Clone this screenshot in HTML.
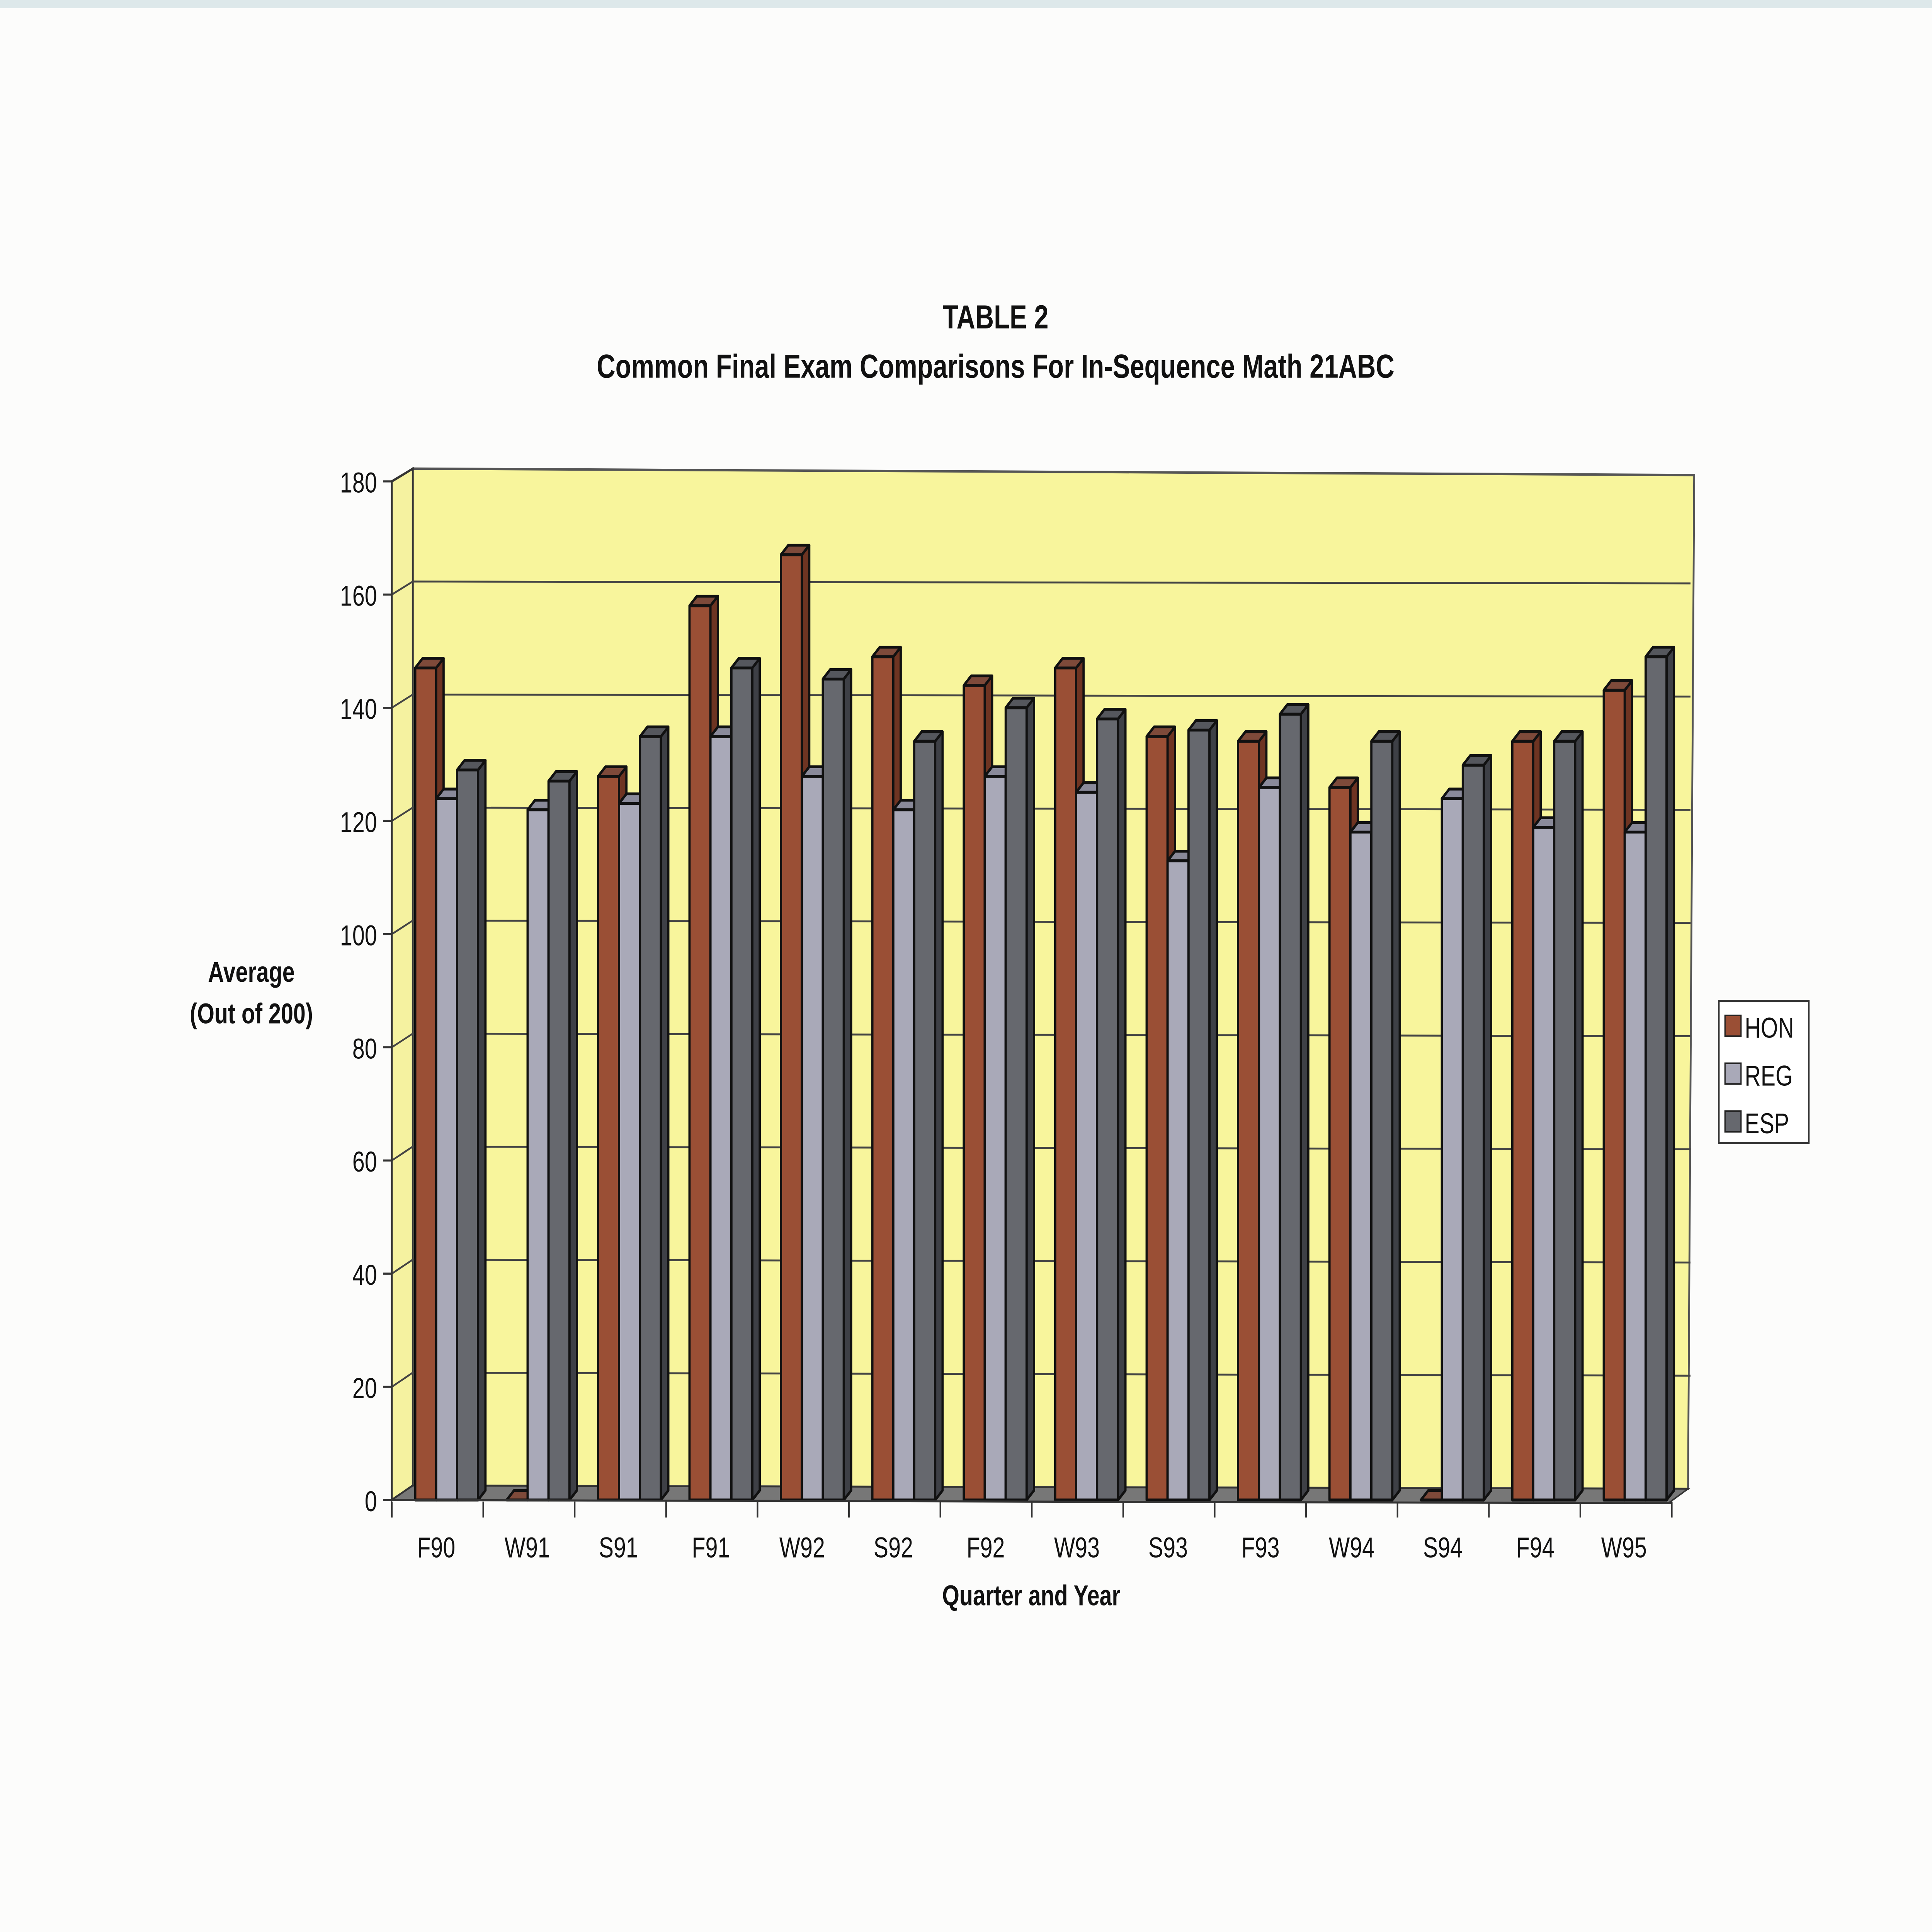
<!DOCTYPE html>
<html><head><meta charset="utf-8"><style>
html,body{margin:0;padding:0;background:#fcfcfb;width:100%;height:100%;overflow:hidden;}
svg{display:block;width:100vw;height:100vh;}
text{font-family:"Liberation Sans",Arial,sans-serif;fill:#111;}
.h1{fill:#9a4f35}.h2{fill:#6e3422}.h3{fill:#7e4a3a}
.r1{fill:#a9a9b8}.r2{fill:#77778a}.r3{fill:#8a8a9a}
.e1{fill:#66686e}.e2{fill:#3e4046}.e3{fill:#55575d}
#bars path{stroke:#111;stroke-width:1.8;stroke-linejoin:round}
</style></head><body>
<svg viewBox="0 0 1568 1212" preserveAspectRatio="none" xmlns="http://www.w3.org/2000/svg">
<rect x="0" y="0" width="1568" height="1212" fill="#fcfcfb"/>
<rect x="0" y="0" width="1568" height="5" fill="#dde8ea"/>
<text x="808" y="206" font-size="21" font-weight="bold" text-anchor="middle">TABLE 2</text>
<text x="808" y="237" font-size="21" font-weight="bold" text-anchor="middle">Common Final Exam Comparisons For In-Sequence Math 21ABC</text>
<polygon points="335,294 1375,298 1370,934 335,932" fill="#f8f59c" stroke="#555" stroke-width="1.5"/>
<polygon points="318,302 335,294 335,932 318,941" fill="#f5f2a0" stroke="#333" stroke-width="1.5"/>
<g stroke="#444" stroke-width="1.2" fill="none">
<polyline points="318,870 335,861.1 1372,863"/>
<polyline points="318,799 335,790.2 1372,792"/>
<polyline points="318,728 335,719.3 1372,721"/>
<polyline points="318,657 335,648.4 1372,650"/>
<polyline points="318,586 335,577.5 1372,579"/>
<polyline points="318,515 335,506.6 1372,508"/>
<polyline points="318,444 335,435.7 1372,437"/>
<polyline points="318,373 335,364.8 1372,366"/>
</g>
<g stroke="#333" stroke-width="1.3">
<line x1="311" y1="302" x2="318" y2="302"/><line x1="311" y1="373" x2="318" y2="373"/>
<line x1="311" y1="444" x2="318" y2="444"/><line x1="311" y1="515" x2="318" y2="515"/>
<line x1="311" y1="586" x2="318" y2="586"/><line x1="311" y1="657" x2="318" y2="657"/>
<line x1="311" y1="728" x2="318" y2="728"/><line x1="311" y1="799" x2="318" y2="799"/>
<line x1="311" y1="870" x2="318" y2="870"/><line x1="311" y1="941" x2="318" y2="941"/>
<line x1="318" y1="942" x2="318" y2="952"/><line x1="392.2" y1="942" x2="392.2" y2="952"/>
<line x1="466.4" y1="942" x2="466.4" y2="952"/><line x1="540.6" y1="942" x2="540.6" y2="952"/>
<line x1="614.8" y1="942" x2="614.8" y2="952"/><line x1="689" y1="942" x2="689" y2="952"/>
<line x1="763.2" y1="942" x2="763.2" y2="952"/><line x1="837.4" y1="942" x2="837.4" y2="952"/>
<line x1="911.6" y1="942" x2="911.6" y2="952"/><line x1="985.8" y1="942" x2="985.8" y2="952"/>
<line x1="1060" y1="942" x2="1060" y2="952"/><line x1="1134.2" y1="942" x2="1134.2" y2="952"/>
<line x1="1208.4" y1="942" x2="1208.4" y2="952"/><line x1="1282.6" y1="942" x2="1282.6" y2="952"/>
<line x1="1356.8" y1="942" x2="1356.8" y2="952"/>
</g>
<polygon points="318,941 1354,943 1370,934 335,932" fill="#777" stroke="#333" stroke-width="1"/>
<g id="bars">
<g transform="translate(337,0)">
<path class="h1" d="M0 941V419h17V941Z"/><path class="h2" d="M17 419l6 -6V935l-6 6Z"/><path class="h3" d="M0 419l6 -6h17l-6 6Z"/>
<path class="r1" d="M17 941V501h17V941Z"/><path class="r2" d="M34 501l6 -6V935l-6 6Z"/><path class="r3" d="M17 501l6 -6h17l-6 6Z"/>
<path class="e1" d="M34 941V483h17V941Z"/><path class="e2" d="M51 483l6 -6V935l-6 6Z"/><path class="e3" d="M34 483l6 -6h17l-6 6Z"/>
</g>
<g transform="translate(411.2,0)">
<path class="h3" d="M0 941l6 -6h17l-6 6Z"/>
<path class="r1" d="M17 941V508h17V941Z"/><path class="r2" d="M34 508l6 -6V935l-6 6Z"/><path class="r3" d="M17 508l6 -6h17l-6 6Z"/>
<path class="e1" d="M34 941V490h17V941Z"/><path class="e2" d="M51 490l6 -6V935l-6 6Z"/><path class="e3" d="M34 490l6 -6h17l-6 6Z"/>
</g>
<g transform="translate(485.4,0)">
<path class="h1" d="M0 941V487h17V941Z"/><path class="h2" d="M17 487l6 -6V935l-6 6Z"/><path class="h3" d="M0 487l6 -6h17l-6 6Z"/>
<path class="r1" d="M17 941V504h17V941Z"/><path class="r2" d="M34 504l6 -6V935l-6 6Z"/><path class="r3" d="M17 504l6 -6h17l-6 6Z"/>
<path class="e1" d="M34 941V462h17V941Z"/><path class="e2" d="M51 462l6 -6V935l-6 6Z"/><path class="e3" d="M34 462l6 -6h17l-6 6Z"/>
</g>
<g transform="translate(559.6,0)">
<path class="h1" d="M0 941V380h17V941Z"/><path class="h2" d="M17 380l6 -6V935l-6 6Z"/><path class="h3" d="M0 380l6 -6h17l-6 6Z"/>
<path class="r1" d="M17 941V462h17V941Z"/><path class="r2" d="M34 462l6 -6V935l-6 6Z"/><path class="r3" d="M17 462l6 -6h17l-6 6Z"/>
<path class="e1" d="M34 941V419h17V941Z"/><path class="e2" d="M51 419l6 -6V935l-6 6Z"/><path class="e3" d="M34 419l6 -6h17l-6 6Z"/>
</g>
<g transform="translate(633.8,0)">
<path class="h1" d="M0 941V348h17V941Z"/><path class="h2" d="M17 348l6 -6V935l-6 6Z"/><path class="h3" d="M0 348l6 -6h17l-6 6Z"/>
<path class="r1" d="M17 941V487h17V941Z"/><path class="r2" d="M34 487l6 -6V935l-6 6Z"/><path class="r3" d="M17 487l6 -6h17l-6 6Z"/>
<path class="e1" d="M34 941V426h17V941Z"/><path class="e2" d="M51 426l6 -6V935l-6 6Z"/><path class="e3" d="M34 426l6 -6h17l-6 6Z"/>
</g>
<g transform="translate(708,0)">
<path class="h1" d="M0 941V412h17V941Z"/><path class="h2" d="M17 412l6 -6V935l-6 6Z"/><path class="h3" d="M0 412l6 -6h17l-6 6Z"/>
<path class="r1" d="M17 941V508h17V941Z"/><path class="r2" d="M34 508l6 -6V935l-6 6Z"/><path class="r3" d="M17 508l6 -6h17l-6 6Z"/>
<path class="e1" d="M34 941V465h17V941Z"/><path class="e2" d="M51 465l6 -6V935l-6 6Z"/><path class="e3" d="M34 465l6 -6h17l-6 6Z"/>
</g>
<g transform="translate(782.2,0)">
<path class="h1" d="M0 941V430h17V941Z"/><path class="h2" d="M17 430l6 -6V935l-6 6Z"/><path class="h3" d="M0 430l6 -6h17l-6 6Z"/>
<path class="r1" d="M17 941V487h17V941Z"/><path class="r2" d="M34 487l6 -6V935l-6 6Z"/><path class="r3" d="M17 487l6 -6h17l-6 6Z"/>
<path class="e1" d="M34 941V444h17V941Z"/><path class="e2" d="M51 444l6 -6V935l-6 6Z"/><path class="e3" d="M34 444l6 -6h17l-6 6Z"/>
</g>
<g transform="translate(856.4,0)">
<path class="h1" d="M0 941V419h17V941Z"/><path class="h2" d="M17 419l6 -6V935l-6 6Z"/><path class="h3" d="M0 419l6 -6h17l-6 6Z"/>
<path class="r1" d="M17 941V497h17V941Z"/><path class="r2" d="M34 497l6 -6V935l-6 6Z"/><path class="r3" d="M17 497l6 -6h17l-6 6Z"/>
<path class="e1" d="M34 941V451h17V941Z"/><path class="e2" d="M51 451l6 -6V935l-6 6Z"/><path class="e3" d="M34 451l6 -6h17l-6 6Z"/>
</g>
<g transform="translate(930.6,0)">
<path class="h1" d="M0 941V462h17V941Z"/><path class="h2" d="M17 462l6 -6V935l-6 6Z"/><path class="h3" d="M0 462l6 -6h17l-6 6Z"/>
<path class="r1" d="M17 941V540h17V941Z"/><path class="r2" d="M34 540l6 -6V935l-6 6Z"/><path class="r3" d="M17 540l6 -6h17l-6 6Z"/>
<path class="e1" d="M34 941V458h17V941Z"/><path class="e2" d="M51 458l6 -6V935l-6 6Z"/><path class="e3" d="M34 458l6 -6h17l-6 6Z"/>
</g>
<g transform="translate(1004.8,0)">
<path class="h1" d="M0 941V465h17V941Z"/><path class="h2" d="M17 465l6 -6V935l-6 6Z"/><path class="h3" d="M0 465l6 -6h17l-6 6Z"/>
<path class="r1" d="M17 941V494h17V941Z"/><path class="r2" d="M34 494l6 -6V935l-6 6Z"/><path class="r3" d="M17 494l6 -6h17l-6 6Z"/>
<path class="e1" d="M34 941V448h17V941Z"/><path class="e2" d="M51 448l6 -6V935l-6 6Z"/><path class="e3" d="M34 448l6 -6h17l-6 6Z"/>
</g>
<g transform="translate(1079,0)">
<path class="h1" d="M0 941V494h17V941Z"/><path class="h2" d="M17 494l6 -6V935l-6 6Z"/><path class="h3" d="M0 494l6 -6h17l-6 6Z"/>
<path class="r1" d="M17 941V522h17V941Z"/><path class="r2" d="M34 522l6 -6V935l-6 6Z"/><path class="r3" d="M17 522l6 -6h17l-6 6Z"/>
<path class="e1" d="M34 941V465h17V941Z"/><path class="e2" d="M51 465l6 -6V935l-6 6Z"/><path class="e3" d="M34 465l6 -6h17l-6 6Z"/>
</g>
<g transform="translate(1153.2,0)">
<path class="h3" d="M0 941l6 -6h17l-6 6Z"/>
<path class="r1" d="M17 941V501h17V941Z"/><path class="r2" d="M34 501l6 -6V935l-6 6Z"/><path class="r3" d="M17 501l6 -6h17l-6 6Z"/>
<path class="e1" d="M34 941V480h17V941Z"/><path class="e2" d="M51 480l6 -6V935l-6 6Z"/><path class="e3" d="M34 480l6 -6h17l-6 6Z"/>
</g>
<g transform="translate(1227.4,0)">
<path class="h1" d="M0 941V465h17V941Z"/><path class="h2" d="M17 465l6 -6V935l-6 6Z"/><path class="h3" d="M0 465l6 -6h17l-6 6Z"/>
<path class="r1" d="M17 941V519h17V941Z"/><path class="r2" d="M34 519l6 -6V935l-6 6Z"/><path class="r3" d="M17 519l6 -6h17l-6 6Z"/>
<path class="e1" d="M34 941V465h17V941Z"/><path class="e2" d="M51 465l6 -6V935l-6 6Z"/><path class="e3" d="M34 465l6 -6h17l-6 6Z"/>
</g>
<g transform="translate(1301.6,0)">
<path class="h1" d="M0 941V433h17V941Z"/><path class="h2" d="M17 433l6 -6V935l-6 6Z"/><path class="h3" d="M0 433l6 -6h17l-6 6Z"/>
<path class="r1" d="M17 941V522h17V941Z"/><path class="r2" d="M34 522l6 -6V935l-6 6Z"/><path class="r3" d="M17 522l6 -6h17l-6 6Z"/>
<path class="e1" d="M34 941V412h17V941Z"/><path class="e2" d="M51 412l6 -6V935l-6 6Z"/><path class="e3" d="M34 412l6 -6h17l-6 6Z"/>
</g>
</g>
<g stroke="#333" stroke-width="1.3" fill="none">
<line x1="318" y1="302" x2="318" y2="941"/>
<line x1="318" y1="941" x2="1356" y2="943"/>
</g>
<g font-size="18" text-anchor="end">
<text x="306" y="309">180</text><text x="306" y="380">160</text><text x="306" y="451">140</text>
<text x="306" y="522">120</text><text x="306" y="593">100</text><text x="306" y="664">80</text>
<text x="306" y="735">60</text><text x="306" y="806">40</text><text x="306" y="877">20</text>
<text x="306" y="948">0</text>
</g>
<text x="204" y="616" font-size="18" font-weight="bold" text-anchor="middle">Average</text>
<text x="204" y="642" font-size="18" font-weight="bold" text-anchor="middle">(Out of 200)</text>
<g font-size="18" text-anchor="middle">
<text x="354" y="977">F90</text><text x="428" y="977">W91</text><text x="502" y="977">S91</text>
<text x="577" y="977">F91</text><text x="651" y="977">W92</text><text x="725" y="977">S92</text>
<text x="800" y="977">F92</text><text x="874" y="977">W93</text><text x="948" y="977">S93</text>
<text x="1023" y="977">F93</text><text x="1097" y="977">W94</text><text x="1171" y="977">S94</text>
<text x="1246" y="977">F94</text><text x="1318" y="977">W95</text>
</g>
<text x="837" y="1007" font-size="18" font-weight="bold" text-anchor="middle">Quarter and Year</text>
<rect x="1395" y="628" width="73" height="89" fill="#fff" stroke="#333" stroke-width="1.3"/>
<rect x="1400" y="637" width="13" height="13" fill="#9a4f35" stroke="#222"/>
<rect x="1400" y="667" width="13" height="13" fill="#a9a9b8" stroke="#222"/>
<rect x="1400" y="697" width="13" height="13" fill="#66686e" stroke="#222"/>
<g font-size="18"><text x="1416" y="651">HON</text><text x="1416" y="681">REG</text><text x="1416" y="711">ESP</text></g>
</svg>
</body></html>
